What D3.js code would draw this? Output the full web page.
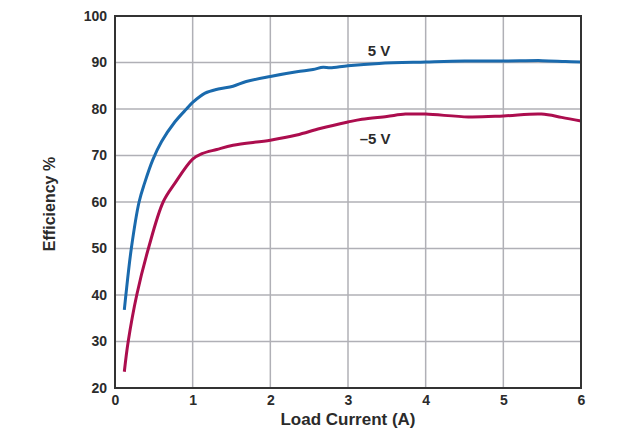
<!DOCTYPE html>
<meta charset="utf-8">
<style type="text/css">
body { margin: 0; background: #fff; }
text { font-family: "Liberation Sans", Arial, Helvetica, sans-serif; font-weight: bold; fill: #2b2b2b; }
.grid line { stroke: #b0b0b6; stroke-width: 1.5px; }
.line { fill: none; stroke-width: 3px; stroke-linejoin: round; stroke-linecap: butt; }
</style>
<body>
<script src="https://cdn.jsdelivr.net/npm/d3@7"></script>
<script>

// efficiency curves
var posX = [0.12, 0.14, 0.21, 0.31, 0.38, 0.485, 0.6, 0.77, 0.92, 1.0, 1.16, 1.33, 1.52, 1.69, 2.0, 2.34, 2.55, 2.68, 2.77, 3.0, 3.4, 4.0, 4.5, 5.0, 5.5, 5.8, 6.0];
var posY = [36.8, 40, 50, 60, 64, 69, 73.0, 77.2, 80, 81.4, 83.4, 84.3, 84.9, 85.9, 87.0, 88.0, 88.5, 89.0, 88.85, 89.3, 89.8, 90.1, 90.3, 90.3, 90.4, 90.2, 90.1];

var negX = [0.12, 0.17, 0.28, 0.43, 0.62, 0.77, 1.0, 1.12, 1.31, 1.52, 2.0, 2.34, 2.64, 3.0, 3.18, 3.5, 3.74, 4.0, 4.55, 5.0, 5.49, 5.75, 6.0];
var negY = [23.5, 30, 40, 50, 60, 64, 69.2, 70.4, 71.3, 72.2, 73.3, 74.4, 75.8, 77.2, 77.8, 78.4, 78.9, 78.9, 78.3, 78.5, 78.9, 78.2, 77.4];

var xTicks = [0, 1, 2, 3, 4, 5, 6];
var yTicks = [20, 30, 40, 50, 60, 70, 80, 90, 100];

var series = [
    {name: "5 V", xs: posX, ys: posY, color: "#1a6aad", lx: 3.4, ly: 91.4},
    {name: "\u20135 V", xs: negX, ys: negY, color: "#ac0d4e", lx: 3.35, ly: 72.5}
];

var margin = {top: 16, right: 49, bottom: 52, left: 115},
    width = 630 - margin.left - margin.right,
    height = 440 - margin.top - margin.bottom;

var x = d3.scaleLinear().domain([0, 6]).range([0, width]);
var y = d3.scaleLinear().domain([20, 100]).range([height, 0]);

var svg = d3.select("body").append("svg")
    .attr("width", 630)
    .attr("height", 440)
    .append("g")
    .attr("transform", "translate(" + margin.left + "," + margin.top + ")");

// grid
var grid = svg.append("g").attr("class", "grid");
grid.selectAll(".vx").data(xTicks.slice(1, -1)).enter().append("line")
    .attr("x1", function(d) { return x(d); }).attr("x2", function(d) { return x(d); })
    .attr("y1", 0).attr("y2", height);
grid.selectAll(".hy").data(yTicks.slice(1, -1)).enter().append("line")
    .attr("y1", function(d) { return y(d); }).attr("y2", function(d) { return y(d); })
    .attr("x1", 0).attr("x2", width);

// axes (labels only, frame drawn below)
var xAxis = svg.append("g")
    .attr("transform", "translate(0," + height + ")")
    .call(d3.axisBottom(x).tickValues(xTicks).tickSize(0).tickPadding(7).tickFormat(d3.format("d")));
var yAxis = svg.append("g")
    .call(d3.axisLeft(y).tickValues(yTicks).tickSize(0).tickPadding(8).tickFormat(d3.format("d")));
[xAxis, yAxis].forEach(function(a) {
    a.select(".domain").remove();
    a.selectAll("text").style("font-size", "14px").attr("fill", "#2b2b2b");
});

// lines
var line = d3.line()
    .x(function(d) { return x(d[0]); })
    .y(function(d) { return y(d[1]); })
    .curve(d3.curveCatmullRom.alpha(0.5));

series.forEach(function(s) {
    var pts = s.xs.map(function(v, i) { return [v, s.ys[i]]; });
    svg.append("path")
        .datum(pts)
        .attr("class", "line")
        .attr("d", line)
        .style("stroke", s.color);

    svg.append("text")
        .attr("x", x(s.lx))
        .attr("y", y(s.ly))
        .attr("text-anchor", "middle")
        .style("font-size", "15px")
        .text(s.name);
});

// frame
svg.append("rect")
    .attr("width", width).attr("height", height)
    .attr("fill", "none")
    .attr("stroke", "#333")
    .attr("stroke-width", 2);

// axis titles
svg.append("text")
    .attr("x", width / 2)
    .attr("y", height + 37)
    .attr("text-anchor", "middle")
    .style("font-size", "17px")
    .text("Load Current (A)");

svg.append("text")
    .attr("transform", "rotate(-90)")
    .attr("x", -(204 - margin.top))
    .attr("y", 55 - margin.left)
    .attr("text-anchor", "middle")
    .style("font-size", "16px")
    .text("Efficiency %");

</script>
</body>
